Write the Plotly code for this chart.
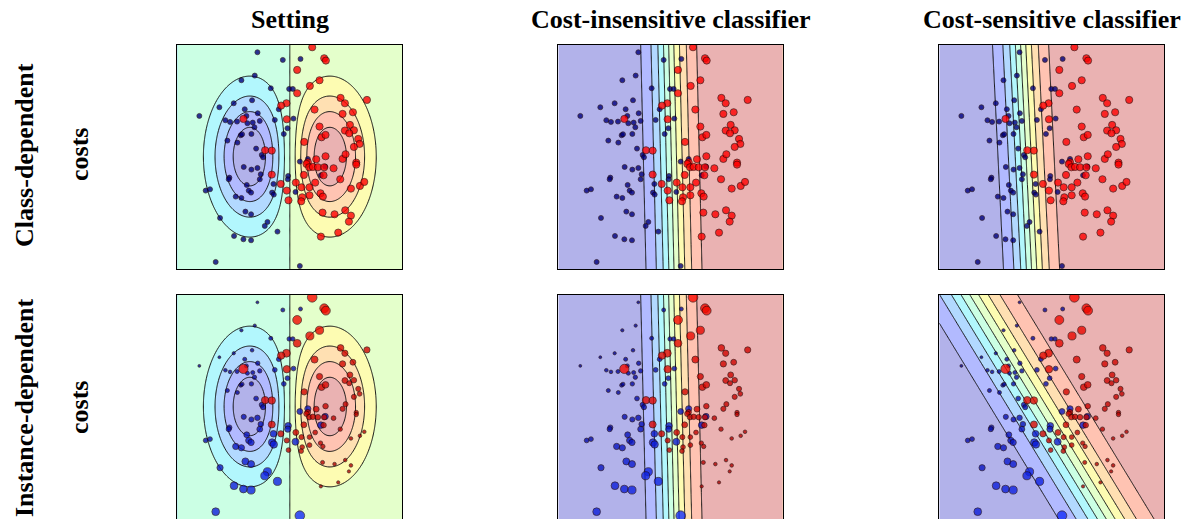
import numpy as np
import plotly.graph_objects as go

# ---------------- data (feature units, panel spans 0..673) ----------------
blue_x = [240, 316, 369, 192, 232, 280, 335, 346, 224, 169, 126, 202, 304, 66, 144, 158, 179, 207, 210, 226,
          241, 247, 292, 231, 330, 348, 319, 190, 194, 222, 150, 180, 236, 253, 257, 199, 222, 240, 250, 247,
          156, 154, 332, 331, 208, 214, 221, 85, 98, 288, 284, 289, 354, 175, 192, 204, 221, 128, 270, 262,
          300, 170, 198, 221, 115, 367, 391, 430, 443, 367]
blue_y = [651, 628, 631, 567, 581, 543, 541, 541, 507, 498, 486, 480, 480, 460, 447, 442, 443, 460, 438, 440,
          468, 445, 448, 426, 423, 452, 406, 402, 405, 406, 386, 380, 362, 343, 336, 307, 299, 304, 285, 270,
          275, 270, 280, 270, 253, 236, 230, 236, 240, 256, 230, 224, 232, 218, 214, 173, 165, 154, 142, 130,
          113, 100, 90, 87, 22, 10, 331, 282, 308, 323]
blue_cost_instance = [0.05, 0.2, 0.2, 0.1, 0.1, 0.2, 0.25, 0.25, 0.15, 0.1, 0.05, 0.2, 0.3, 0.05, 0.15, 0.15, 0.2, 0.2, 0.2, 0.2,
                      0.25, 0.25, 0.3, 0.25, 0.3, 0.3, 0.3, 0.2, 0.2, 0.25, 0.2, 0.2, 0.3, 0.35, 0.35, 0.35, 0.35, 0.4, 0.4, 0.45,
                      0.35, 0.35, 0.55, 0.5, 0.45, 0.5, 0.5, 0.3, 0.3, 0.55, 0.65, 0.65, 0.6, 0.5, 0.5, 0.6, 0.6, 0.5, 0.75, 0.75,
                      0.75, 0.7, 0.7, 0.75, 0.7, 0.95, 0.5, 0.55, 0.5, 0.45]

red_x = [404, 440, 445, 359, 426, 397, 359, 327, 311, 489, 568, 502, 411, 526, 495, 328, 198, 517, 426, 502,
         529, 515, 432, 444, 542, 546, 529, 380, 263, 283, 444, 416, 495, 504, 391, 387, 395, 406, 421, 440,
         468, 438, 379, 283, 536, 536, 488, 413, 355, 310, 372, 396, 328, 396, 429, 436, 374, 371, 520, 547,
         560, 435, 471, 503, 520, 514, 482, 430, 333]
red_y = [666, 633, 626, 598, 567, 550, 528, 498, 491, 514, 508, 498, 479, 471, 466, 450, 451, 433, 428, 416,
         417, 408, 396, 403, 391, 376, 367, 382, 357, 356, 339, 330, 331, 345, 321, 316, 306, 307, 306, 306,
         303, 282, 283, 284, 320, 314, 270, 260, 260, 256, 246, 246, 236, 222, 228, 218, 216, 204, 242, 250,
         262, 170, 165, 177, 161, 143, 110, 98, 207]
red_cost_instance = [0.95, 0.85, 0.85, 0.85, 0.75, 0.75, 0.7, 0.7, 0.65, 0.55, 0.5, 0.5, 0.6, 0.45, 0.5, 0.65, 0.9, 0.45, 0.5, 0.45,
                     0.4, 0.35, 0.55, 0.55, 0.35, 0.3, 0.35, 0.5, 0.65, 0.65, 0.4, 0.45, 0.35, 0.35, 0.4, 0.4, 0.4, 0.4, 0.4, 0.4,
                     0.3, 0.4, 0.45, 0.6, 0.25, 0.25, 0.25, 0.3, 0.45, 0.5, 0.35, 0.3, 0.35, 0.3, 0.25, 0.25, 0.3, 0.3, 0.15, 0.15,
                     0.15, 0.2, 0.15, 0.15, 0.15, 0.1, 0.1, 0.1, 0.3]

col_titles = ["Setting", "Cost-insensitive classifier", "Cost-sensitive classifier"]
row_titles = [("Class-dependent", "costs"), ("Instance-dependent", "costs")]

# model parameters for the background probability surfaces
gauss_left = (220, 338, 79, 135)    # cx, cy, sx, sy
gauss_right = (454, 338, 79, 135)
logit_insensitive = (1.0, 0.0238, 347, 38.2)   # wx, wy, offset, scale
logit_sens_class = (1.0, 0.0489, 276, 38.2)
logit_sens_inst = (0.855, 0.518, 427, 55.6)
levels = (0.1, 0.9, 0.1)

# ---------------- helpers ----------------
SPAN = 673
grid = np.linspace(0, SPAN, 241)
GX, GY = np.meshgrid(grid, grid)


def gauss(p):
    cx, cy, sx, sy = p
    return np.exp(-0.5 * (((GX - cx) / sx) ** 2 + ((GY - cy) / sy) ** 2))


def setting_field():
    return 0.5 + 0.5 * (gauss(gauss_right) - gauss(gauss_left)) + 1e-6 * (GX - SPAN / 2)


def logit_field(p):
    wx, wy, off, sc = p
    return 1.0 / (1.0 + np.exp(-(wx * GX + wy * GY - off) / sc))


JET_R = [(0, 0), (0.35, 0), (0.66, 1), (0.89, 1), (1, 0.5)]
JET_G = [(0, 0), (0.125, 0), (0.375, 1), (0.64, 1), (0.91, 0), (1, 0)]
JET_B = [(0, 0.5), (0.11, 1), (0.34, 1), (0.65, 0), (1, 0)]


def ch(tab, v):
    return float(np.interp(v, [t[0] for t in tab], [t[1] for t in tab]))


def jet_blend(v, alpha=0.3):
    rgb = [ch(JET_R, v), ch(JET_G, v), ch(JET_B, v)]
    out = [round(255 * (1 - alpha) + 255 * alpha * c) for c in rgb]
    return "rgb(%d,%d,%d)" % tuple(out)


bg_scale = [[k / 9, jet_blend(0.05 + 0.1 * k)] for k in range(10)]

fields = [
    [setting_field(), logit_field(logit_insensitive), logit_field(logit_sens_class)],
    [setting_field(), logit_field(logit_insensitive), logit_field(logit_sens_inst)],
]

col_dom = [(177.3, 402.0), (558.3, 782.7), (939.3, 1164.3)]
row_dom = [(44.9, 269.3), (295.0, 519.0)]
W, H = 1189, 519

fig = go.Figure()
layout = dict(width=W, height=H, margin=dict(l=0, r=0, t=0, b=0),
              paper_bgcolor="white", plot_bgcolor="white", showlegend=False)

mk_op = 0.8
edge = dict(color="rgb(25,0,0)", width=0.7)

for r in range(2):
    for c in range(3):
        idx = r * 3 + c + 1
        xa = "x" if idx == 1 else "x%d" % idx
        ya = "y" if idx == 1 else "y%d" % idx
        xname = "xaxis" if idx == 1 else "xaxis%d" % idx
        yname = "yaxis" if idx == 1 else "yaxis%d" % idx
        x0, x1 = col_dom[c]
        t0, t1 = row_dom[r]
        layout[xname] = dict(domain=[x0 / W, x1 / W], range=[0, SPAN], anchor=ya,
                             showgrid=False, zeroline=False, showticklabels=False, ticks="",
                             showline=True, linecolor="black", linewidth=1, mirror=True)
        layout[yname] = dict(domain=[max(0, 1 - t1 / H), 1 - t0 / H], range=[0, SPAN], anchor=xa,
                             showgrid=False, zeroline=False, showticklabels=False, ticks="",
                             showline=True, linecolor="black", linewidth=1, mirror=True)

        fig.add_trace(go.Contour(
            x=grid, y=grid, z=fields[r][c], xaxis=xa, yaxis=ya,
            contours=dict(start=levels[0], end=levels[1], size=levels[2], coloring="fill"),
            colorscale=bg_scale, showscale=False, line=dict(color="#111", width=1),
            hoverinfo="skip"))

        if r == 0:
            fig.add_trace(go.Scatter(
                x=blue_x, y=blue_y, mode="markers", xaxis=xa, yaxis=ya,
                marker=dict(size=5.0, color="rgb(0,0,128)", opacity=mk_op, line=edge), hoverinfo="skip"))
            fig.add_trace(go.Scatter(
                x=red_x, y=red_y, mode="markers", xaxis=xa, yaxis=ya,
                marker=dict(size=7.2, color="rgb(255,0,0)", opacity=mk_op, line=edge), hoverinfo="skip"))
        else:
            fig.add_trace(go.Scatter(
                x=blue_x, y=blue_y, mode="markers", xaxis=xa, yaxis=ya,
                marker=dict(size=[2.5 + 7.5 * v for v in blue_cost_instance], color=blue_cost_instance,
                            cmin=0, cmax=1, colorscale=[[0, "rgb(0,0,135)"], [1, "rgb(20,45,255)"]],
                            showscale=False, opacity=mk_op, line=edge), hoverinfo="skip"))
            fig.add_trace(go.Scatter(
                x=red_x, y=red_y, mode="markers", xaxis=xa, yaxis=ya,
                marker=dict(size=[2.5 + 7.5 * v for v in red_cost_instance], color=red_cost_instance,
                            cmin=0, cmax=1, colorscale=[[0, "rgb(165,0,0)"], [1, "rgb(255,10,0)"]],
                            showscale=False, opacity=mk_op, line=edge), hoverinfo="skip"))

font_t = dict(family="Liberation Serif, Times New Roman, serif", size=26, color="black")
ann = []
for c, t in enumerate(col_titles):
    x0, x1 = col_dom[c]
    ann.append(dict(text="<b>%s</b>" % t, x=(x0 + x1) / 2 / W, y=1 - 19 / H, xref="paper", yref="paper",
                    showarrow=False, xanchor="center", yanchor="middle", font=font_t))
for r, (a, b) in enumerate(row_titles):
    yc = [155, 408][r]
    ann.append(dict(text="<b>%s</b>" % a, x=24 / W, y=1 - yc / H, xref="paper", yref="paper",
                    showarrow=False, textangle=-90, xanchor="center", yanchor="middle", font=font_t))
    ann.append(dict(text="<b>%s</b>" % b, x=79 / W, y=1 - yc / H, xref="paper", yref="paper",
                    showarrow=False, textangle=-90, xanchor="center", yanchor="middle", font=font_t))
layout["annotations"] = ann
layout["hovermode"] = False

fig.update_layout(**layout)
fig.write_html("out.html", config={"displayModeBar": False, "staticPlot": True},
               post_script="document.body.style.margin='0';document.body.style.overflow='hidden';")
